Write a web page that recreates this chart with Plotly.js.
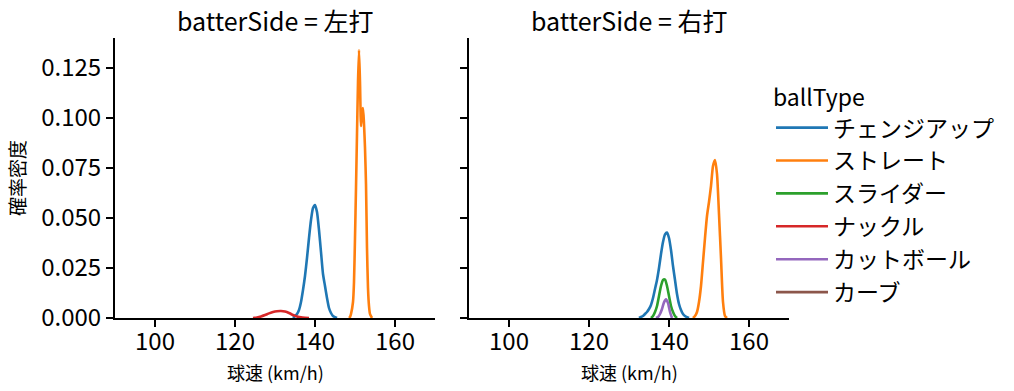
<!DOCTYPE html>
<html>
<head>
<meta charset="utf-8">
<script src="https://cdn.plot.ly/plotly-3.0.1.min.js"></script>
<style>html,body{margin:0;padding:0;background:#fff;}#chart{width:1014px;height:391px;}</style>
</head>
<body>
<div id="chart"></div>
<script>
// Left panel (左打)
const L_change_x = [134.5,135,135.5,136,136.5,137,137.5,138,138.5,139,139.5,140,140.5,141,141.5,142,142.5,143,143.5,144,144.5,145.5];
const L_change_y = [0,0.001,0.002,0.004,0.008,0.014,0.021,0.030,0.040,0.049,0.055,0.0565,0.053,0.044,0.033,0.022,0.016,0.010,0.005,0.0025,0.001,0];
const L_straight_x = [148.5,148.75,149,149.5,149.75,150,150.25,150.5,150.75,151,151.25,151.5,151.75,152,152.25,152.5,152.75,153,153.25,153.5,153.75,154.25];
const L_straight_y = [0,0.0005,0.002,0.008,0.018,0.040,0.065,0.092,0.118,0.134,0.118,0.096,0.103,0.105,0.097,0.085,0.067,0.035,0.015,0.006,0.002,0];
const L_knuckle_x = [124.5,125.5,126.5,127.5,128.5,129.5,130.5,131.5,132.5,133.5,134.5,135.5,136.5,137.5,138.5];
const L_knuckle_y = [0,0.0003,0.0008,0.0015,0.0023,0.003,0.0034,0.0035,0.0032,0.0025,0.0015,0.0008,0.0003,0.0001,0];
// Right panel (右打)
const R_change_x = [132.5,133,133.5,134,134.5,135,135.5,136,136.5,137,137.5,138,138.5,139,139.5,140,140.5,141,141.5,142,142.5,143,143.5,144,145];
const R_change_y = [0,0.0005,0.001,0.002,0.003,0.0045,0.0065,0.010,0.0145,0.019,0.025,0.032,0.038,0.0418,0.0427,0.040,0.034,0.026,0.019,0.012,0.007,0.004,0.002,0.001,0];
const R_straight_x = [146,146.5,147,147.5,148,148.5,149,149.5,150,150.5,151,151.5,152,152.5,153,153.5,154,154.5];
const R_straight_y = [0,0.001,0.003,0.008,0.016,0.028,0.040,0.051,0.058,0.066,0.076,0.079,0.072,0.052,0.030,0.008,0.001,0];
const R_slider_x = [135.5,136,136.5,137,137.5,138,138.5,139,139.5,140,140.5,141,141.5,142];
const R_slider_y = [0,0.001,0.003,0.006,0.011,0.016,0.019,0.0192,0.016,0.011,0.006,0.003,0.001,0];
const R_cutter_x = [136.75,137.25,137.75,138.25,138.75,139.25,139.75,140.25,140.75];
const R_cutter_y = [0,0.0005,0.002,0.0045,0.0078,0.0093,0.0075,0.003,0];
// カーブ: no density curve drawn (legend entry only)
const R_curve_x = [null];
const R_curve_y = [null];

const ballTypes = ['チェンジアップ','ストレート','スライダー','ナックル','カットボール','カーブ'];
const colors = ['#1f77b4','#ff7f0e','#2ca02c','#d62728','#9467bd','#8c564b'];
const panelTitles = ['batterSide = 左打','batterSide = 右打'];
const xTitle = '球速 (km/h)';
const yTitle = '確率密度';
const xTicks = [100,120,140,160];
const yTicks = [0,0.025,0.05,0.075,0.1,0.125];
const yTickText = ['0.000','0.025','0.050','0.075','0.100','0.125'];

const FONT = '"Noto Sans CJK JP", "Noto Sans", sans-serif';

function tr(x, y, i, xa, ya, show){
  return {x:x, y:y, type:'scatter', mode:'lines', name:ballTypes[i], legendgroup:ballTypes[i],
    showlegend:show, xaxis:xa, yaxis:ya, line:{color:colors[i], width:2.6, shape:'spline', smoothing:0.6},
    hoverinfo:'skip'};
}

const data = [
  tr(L_change_x, L_change_y, 0, 'x', 'y', true),
  tr(L_straight_x, L_straight_y, 1, 'x', 'y', true),
  tr(R_slider_x, R_slider_y, 2, 'x2', 'y2', true),
  tr(L_knuckle_x, L_knuckle_y, 3, 'x', 'y', true),
  tr(R_cutter_x, R_cutter_y, 4, 'x2', 'y2', true),
  tr(R_curve_x, R_curve_y, 5, 'x2', 'y2', true),
  tr(R_change_x, R_change_y, 0, 'x2', 'y2', false),
  tr(R_straight_x, R_straight_y, 1, 'x2', 'y2', false),
];

const axBase = {showgrid:false, zeroline:false, showline:true, linecolor:'#000', linewidth:2,
  ticks:'outside', ticklen:7, tickwidth:1.6, tickcolor:'#000', mirror:false,
  tickfont:{family:FONT, size:24, color:'#000'}};

const xd1 = [115/1014, 435/1014], xd2 = [469/1014, 789/1014];
const yd = [1-318/391, 1-38/391];

const layout = {
  width:1014, height:391, margin:{l:0,r:0,t:0,b:0}, paper_bgcolor:'#fff', plot_bgcolor:'#fff',
  font:{family:FONT, color:'#000'},
  xaxis: Object.assign({}, axBase, {domain:xd1, range:[90,170], tickvals:xTicks, anchor:'y', ticklabelstandoff:-6}),
  xaxis2: Object.assign({}, axBase, {domain:xd2, range:[90,170], tickvals:xTicks, anchor:'y2', ticklabelstandoff:-6}),
  yaxis: Object.assign({}, axBase, {domain:yd, range:[0,0.14], tickvals:yTicks, ticktext:yTickText, anchor:'x',
    title:{text:yTitle, font:{family:FONT, size:19}, standoff:11}}),
  yaxis2: Object.assign({}, axBase, {domain:yd, range:[0,0.14], tickvals:yTicks, showticklabels:false, anchor:'x2'}),
  showlegend:true,
  legend:{x:771/1014, y:0.805, xanchor:'left', yanchor:'top', bgcolor:'rgba(0,0,0,0)',
    font:{family:FONT, size:23, color:'#000'}, title:{text:'ballType', font:{family:FONT, size:23}},
    itemwidth:52, tracegroupgap:0, borderwidth:0},
  annotations:[
    {text:panelTitles[0], x:(xd1[0]+xd1[1])/2, y:1-20/391, xref:'paper', yref:'paper', showarrow:false,
     font:{family:FONT, size:25, color:'#000'}, xanchor:'center', yanchor:'middle'},
    {text:panelTitles[1], x:(xd2[0]+xd2[1])/2, y:1-20/391, xref:'paper', yref:'paper', showarrow:false,
     font:{family:FONT, size:25, color:'#000'}, xanchor:'center', yanchor:'middle'},
    {text:xTitle, x:(xd1[0]+xd1[1])/2, y:1-372/391, xref:'paper', yref:'paper', showarrow:false,
     font:{family:FONT, size:18, color:'#000'}, xanchor:'center', yanchor:'middle'},
    {text:xTitle, x:(xd2[0]+xd2[1])/2, y:1-372/391, xref:'paper', yref:'paper', showarrow:false,
     font:{family:FONT, size:18, color:'#000'}, xanchor:'center', yanchor:'middle'}
  ]
};

Plotly.newPlot('chart', data, layout, {displayModeBar:false, staticPlot:true});
</script>
</body>
</html>
